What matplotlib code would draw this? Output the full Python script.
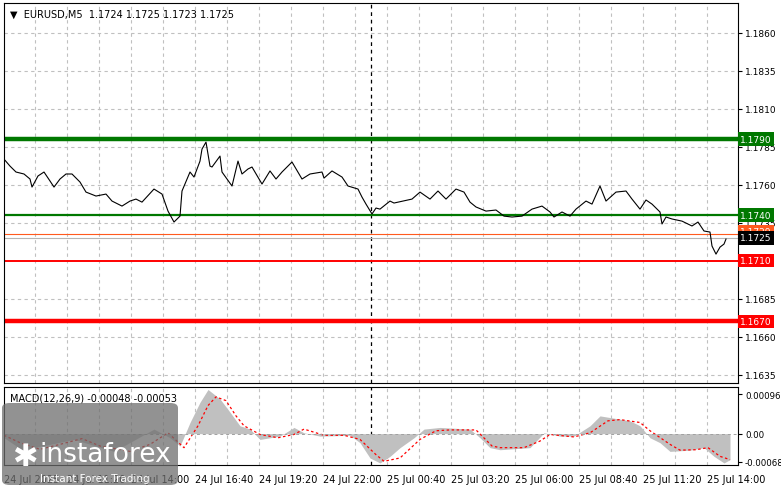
import numpy as np
import matplotlib
matplotlib.use("Agg")
import matplotlib.pyplot as plt
from matplotlib.patches import FancyBboxPatch

# Precio EURUSD M5 (índice de barra, cierre)
idx_precio = [0, 3, 6, 10, 13, 14, 17, 20, 23, 25, 28, 31, 34, 38, 41, 46, 51, 54, 59, 63,
              66, 69, 75, 79, 82, 85, 88, 89, 93, 95, 98, 99, 101, 103, 104, 108, 109, 114,
              117, 119, 122, 124, 129, 133, 136, 139, 144, 149, 153, 159, 160, 164, 169, 172,
              177, 179, 181, 184, 186,
              188, 193, 195, 204, 208, 213, 217, 221, 226, 230, 233, 236, 241, 246, 250, 254,
              259, 264, 269, 273, 275, 279, 283, 286, 291, 294, 298, 301, 306, 311, 314, 318,
              321, 324, 328, 329, 331, 334, 339, 344, 347, 350, 353, 354, 356, 358, 360, 361]
precio = [1.17768, 1.17722, 1.17683, 1.17670, 1.17637, 1.17584, 1.17657, 1.17683, 1.17624,
          1.17584, 1.17637, 1.17670, 1.17670, 1.17617, 1.17551, 1.17525, 1.17538, 1.17492,
          1.17459, 1.17492, 1.17505, 1.17485, 1.17571, 1.17538, 1.17426, 1.17354, 1.17393,
          1.17558, 1.17683, 1.17650, 1.17755, 1.17834, 1.17880, 1.17722, 1.17716, 1.17788,
          1.17683, 1.17591, 1.17755, 1.17670, 1.17703, 1.17716, 1.17604, 1.17690, 1.17637,
          1.17683, 1.17749, 1.17637, 1.17670, 1.17683, 1.17643, 1.17690, 1.17650, 1.17591,
          1.17571, 1.17518, 1.17472, 1.17407, 1.17446,
          1.17439, 1.17492, 1.17479, 1.17505, 1.17551, 1.17505, 1.17558, 1.17505, 1.17571,
          1.17551, 1.17485, 1.17453, 1.17426, 1.17433, 1.17393, 1.17387, 1.17393, 1.17439,
          1.17459, 1.17420, 1.17387, 1.17420, 1.17393, 1.17439, 1.17492, 1.17472, 1.17591,
          1.17492, 1.17551, 1.17558, 1.17505, 1.17439, 1.17499, 1.17472, 1.17420, 1.17341,
          1.17387, 1.17374, 1.17360, 1.17328, 1.17354, 1.17295, 1.17288, 1.17196, 1.17143,
          1.17189, 1.17209, 1.17242]

# MACD(12,26,9)
idx_hist = [0, 9, 23, 35, 55, 75, 83, 88, 93, 98, 102, 108, 113, 118, 123, 128, 138, 145, 150,
            158, 173, 178, 183, 188, 193, 198, 205, 210, 218, 233, 238, 243, 248, 263, 270, 278,
            285, 293, 298, 303, 313, 318, 323, 328, 333, 343, 350, 355, 360, 363]
macd_hist = [-0.0001, -0.00039, -0.00026, -0.00014, -0.00043, 0.00011, -0.0001, -0.0003,
             0.00027, 0.00076, 0.00107, 0.00084, 0.00052, 0.00019, 0.00011, -0.00014, -0.00006,
             0.00015, 0.00002, -0.00006, -0.00004, -0.00022, -0.00059, -0.00071, -0.00055,
             -0.00034, -0.0001, 0.00011, 0.00015, 0.00011, -0.0001, -0.00034, -0.00039,
             -0.00034, 0.00002, -0.00006, -0.00006, 0.00019, 0.00043, 0.00039, 0.00031,
             0.00019, -0.0001, -0.00022, -0.00043, -0.0004, -0.00034, -0.00055, -0.00071,
             -0.00063]
idx_senal = [0, 8, 18, 28, 39, 48, 63, 73, 82, 90, 97, 102, 106, 111, 116, 120, 128, 137, 145,
             150, 160, 170, 178, 186, 190, 198, 208, 216, 223, 236, 244, 248, 260, 268, 273,
             285, 293, 302, 308, 318, 323, 333, 338, 346, 352, 358, 363]
macd_senal = [-0.00004, -0.00022, -0.00038, -0.00026, -0.00012, -0.0003, -0.00043, -0.00026,
              0.00002, -0.00034, 0.00019, 0.00068, 0.00089, 0.0008, 0.00043, 0.00019, -0.00002,
              -0.0001, -0.00002, 0.00011, -0.00004, -0.00004, -0.00014, -0.00051, -0.00067,
              -0.00059, -0.00014, 0.00007, 0.00009, 0.00009, -0.0003, -0.00034, -0.00034,
              -0.00018, -0.00002, -0.00008, 0.00002, 0.00031, 0.00034, 0.00027, 0.00007,
              -0.00026, -0.0004, -0.00039, -0.00034, -0.00055, -0.00063]

niveles = [(1.1790, "#007800", 3.2), (1.1740, "#007800", 1.6),
           (1.1710, "#ff0000", 1.4), (1.1670, "#ff0000", 3.2)]
ticks_precio = [1.1860, 1.1835, 1.1810, 1.1785, 1.1760, 1.1735, 1.1685, 1.1660, 1.1635]
etiq_tiempo = ["24 Jul 2025", "24 Jul 11:20", "24 Jul 14:00", "24 Jul 16:40", "24 Jul 19:20",
               "24 Jul 22:00", "25 Jul 00:40", "25 Jul 03:20", "25 Jul 06:00", "25 Jul 08:40",
               "25 Jul 11:20", "25 Jul 14:00"]
pos_tiempo = [0, 31.5, 63.5, 95.5, 127.5, 159.5, 191.5, 223.5, 255.5, 287.5, 319.5, 351.5]

W, H = 781, 489
fig = plt.figure(figsize=(W / 100, H / 100), dpi=100)
ax = fig.add_axes([4 / W, 1 - 384 / H, 734 / W, 380 / H])
ax2 = fig.add_axes([4 / W, 1 - 466 / H, 734 / W, 78 / H])

xlim = (0, 367)
grid_x = np.arange(15.5, 367, 16)
for a in (ax, ax2):
    a.set_xlim(*xlim)
    for gx in grid_x:
        a.axvline(gx, color="#c0c0c0", lw=0.8, ls=(0, (3, 3)), zorder=0)
    a.axvline(183.5, color="black", lw=0.9, ls=(0, (3, 3)), zorder=1)
    a.set_xticks([])
    a.tick_params(axis="y", which="both", length=3, labelsize=6.5, right=True, left=False,
                  labelright=True, labelleft=False, pad=2)
    for s in a.spines.values():
        s.set_linewidth(0.8)

# panel principal
ax.set_ylim(1.16295, 1.18795)
for t in ticks_precio:
    ax.axhline(t, color="#c0c0c0", lw=0.8, ls=(0, (3, 3)), zorder=0)
ax.set_yticks(ticks_precio)
ax.set_yticklabels([f"{t:.4f}" for t in ticks_precio])
ax.axhline(1.17275, color="#ff5a1e", lw=0.8)
ax.axhline(1.1725, color="#b4b4b4", lw=0.8)
for nivel, col, lw in niveles:
    ax.axhline(nivel, color=col, lw=lw, zorder=2)
ax.plot(idx_precio, precio, color="black", lw=0.8, zorder=3)

def caja(a, y, txt, fc, z=5):
    a.text(1.003, y, txt, transform=a.get_yaxis_transform(), fontsize=6.5, color="white",
           va="center", ha="left", zorder=z, clip_on=False,
           bbox=dict(boxstyle="square,pad=0.25", fc=fc, ec="none"))

caja(ax, 1.1729, "1.1729", "#ff5a1e", z=4)
caja(ax, 1.1725, "1.1725", "black")
for nivel, col, lw in niveles:
    caja(ax, nivel, f"{nivel:.4f}", col)

ax.text(0.008, 0.985, "▼  EURUSD,M5  1.1724 1.1725 1.1723 1.1725", transform=ax.transAxes,
        fontsize=7, va="top", ha="left")

# MACD
ax2.set_ylim(-0.00076, 0.00113)
ax2.fill_between(idx_hist, 0, macd_hist, color="#c0c0c0", lw=0)
ax2.plot(idx_senal, macd_senal, color="red", lw=0.9, ls=(0, (2, 2)))
ax2.axhline(0, color="#a0a0a0", lw=0.7, ls=(0, (3, 3)))
ax2.set_yticks([0.00096, 0.0, -0.00068])
ax2.set_yticklabels(["0.00096", "0.00", "-0.00068"])
ax2.tick_params(axis="y", labelsize=6.2)
ax2.text(0.008, 0.93, "MACD(12,26,9) -0.00048 -0.00053", transform=ax2.transAxes,
         fontsize=7, va="top", ha="left")

for p, e in zip(pos_tiempo, etiq_tiempo):
    ax2.text(p, -0.12, e, transform=ax2.get_xaxis_transform(), fontsize=7,
             ha="left", va="top")

# logo
logo = FancyBboxPatch((2 / W, 3 / H), 176 / W, 82 / H, boxstyle="round,pad=0,rounding_size=0.01",
                      transform=fig.transFigure, fc="#6e6e6e", ec="none", alpha=0.75, zorder=10)
fig.patches.append(logo)
fig.text(40 / W, 1 - 462 / H, "instaforex", fontsize=19, color="white", zorder=11,
         va="baseline")
fig.text(40 / W, 1 - 482 / H, "Instant Forex Trading", fontsize=7.5, color="white", zorder=11)
fig.text(12 / W, 1 - 466 / H, "✱", fontsize=22, color="white", zorder=11)

fig.savefig("out.png", dpi=100)
